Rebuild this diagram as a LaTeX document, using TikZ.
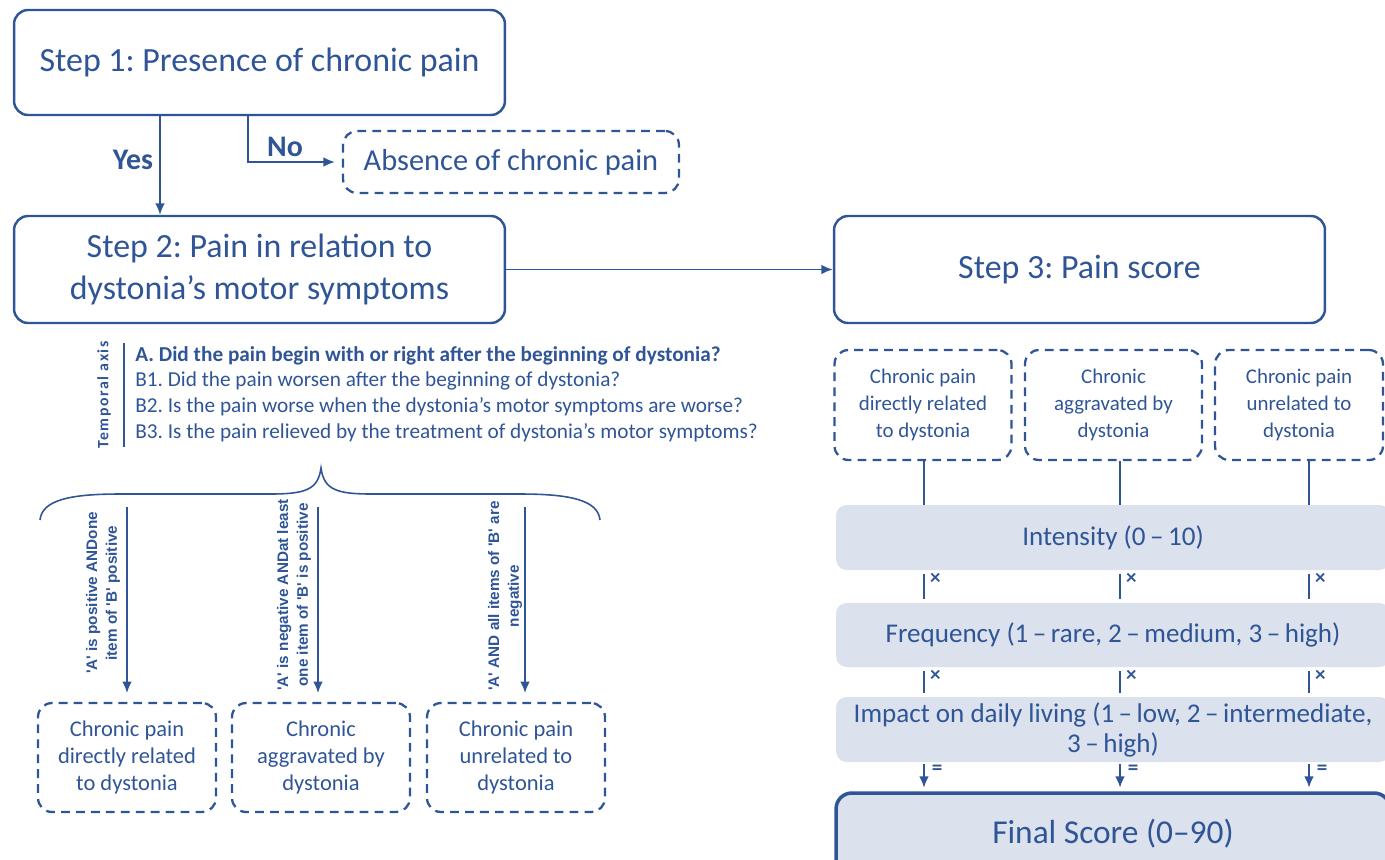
\documentclass[tikz,border=0pt]{standalone}
\usepackage{fontspec}
\setmainfont{Carlito}
\newfontfamily\labelfont{Liberation Sans}
\newfontfamily\axisfont[LetterSpace=10]{Carlito}
\usetikzlibrary{arrows.meta,calc}
\definecolor{ink}{HTML}{2F5597}
\definecolor{band}{HTML}{DCE2ED}
\frenchspacing

\tikzset{
  stepbox/.style={draw=ink, line width=1.4pt, rounded corners=8pt, align=center,
    text=ink, inner sep=0pt, font=\fontsize{19.3}{23.5}\selectfont},
  dashbox/.style={draw=ink, line width=1.3pt, dash pattern=on 5pt off 3.5pt,
    rounded corners=8pt, align=center, text=ink, inner sep=0pt},
  bandbox/.style={fill=band, rounded corners=6pt, align=center, text=ink,
    inner sep=0pt, minimum width=11.08cm, font=\fontsize{15.4}{17}\selectfont},
  link/.style={draw=ink, line width=1pt},
  arr/.style={link, -{Latex[length=6.5pt,width=5.5pt]}},
  rulelabel/.style={rotate=90, align=center, text=ink, inner sep=0pt,
    font=\labelfont\bfseries\fontsize{8.7}{11.3}\selectfont},
  opmark/.style={anchor=north west, inner sep=0pt, xshift=3pt, yshift=-1pt,
    text=ink, font=\bfseries\fontsize{12}{12}\selectfont},
}

\begin{document}
\begin{tikzpicture}[x=0.02cm, y=-0.02cm]
\useasboundingbox (0,0) rectangle (1385,859);
\clip (0,0) rectangle (1385,859);

% --- left column: steps 1 and 2
\node[stepbox, minimum width=9.82cm, minimum height=2.1cm] (s1) at (259.5,62.5)
  {Step 1: Presence of chronic pain};
\node[dashbox, minimum width=6.72cm, minimum height=1.24cm,
  font=\fontsize{17.3}{20}\selectfont] (absent) at (511,162) {Absence of chronic pain};
\node[stepbox, minimum width=9.82cm, minimum height=2.14cm] (s2) at (259.5,269.5)
  {Step 2: Pain in relation to\\dystonia’s motor symptoms};
\node[stepbox, minimum width=9.82cm, minimum height=2.14cm] (s3) at (1079.5,269.5)
  {Step 3: Pain score};

\coordinate (yesx) at (160,0);
\coordinate (nox) at (248,0);
\draw[arr] (s1.south -| yesx) -- (s2.north -| yesx);
\draw[arr, shorten >=4pt] (s1.south -| nox) |- (absent.west);
\node[text=ink, font=\bfseries\fontsize{17}{20}\selectfont] (yes) at (133,160) {Yes};
\node[text=ink, font=\bfseries\fontsize{17}{20}\selectfont] (no) at (285,147) {No};
\draw[arr] (s2.east) -- (s3.west);

% --- questions on the temporal axis
\node[rotate=90, text=ink, inner sep=0pt,
  font=\axisfont\bfseries\fontsize{9}{10}\selectfont] (axis) at (104,395) {Temporal axis};
\draw[ink, line width=1.2pt] (124,343) -- (124,447);
\node[anchor=west, align=left, text=ink, inner sep=0pt,
  font=\fontsize{12.1}{14.7}\selectfont] (quest) at (135,394)
  {\textbf{A. Did the pain begin with or right after the beginning of dystonia?}\\
   B1. Did the pain worsen after the beginning of dystonia?\\
   B2. Is the pain worse when the dystonia’s motor symptoms are worse?\\
   B3. Is the pain relieved by the treatment of dystonia’s motor symptoms?};

% --- brace gathering the answers
\draw[ink, line width=0.9pt] (40,520) .. controls (42,500) and (70,494) .. (120,494)
  -- (270,494) .. controls (305,494) and (318,490) .. (321,468)
  .. controls (324,490) and (337,494) .. (372,494)
  -- (520,494) .. controls (570,494) and (598,500) .. (600,520);

% --- classification outcomes
\node[dashbox, minimum width=3.56cm, minimum height=2.18cm,
  font=\fontsize{12.8}{15.3}\selectfont] (o1) at (127,757.5)
  {Chronic pain\\directly related\\to dystonia};
\node[dashbox, minimum width=3.56cm, minimum height=2.18cm,
  font=\fontsize{12.8}{15.3}\selectfont] (o2) at (321,757.5)
  {Chronic\\aggravated by\\dystonia};
\node[dashbox, minimum width=3.56cm, minimum height=2.18cm,
  font=\fontsize{12.8}{15.3}\selectfont] (o3) at (516,757.5)
  {Chronic pain\\unrelated to\\dystonia};

\coordinate (b1) at (127,507);
\coordinate (b2) at (318,507);
\coordinate (b3) at (525,507);
\draw[arr, shorten >=5pt] (b1) -- (b1 |- o1.north);
\draw[arr, shorten >=5pt] (b2) -- (b2 |- o2.north);
\draw[arr, shorten >=5pt] (b3) -- (b3 |- o3.north);

\node[rulelabel] (r1) at (103,593) {'A' is positive ANDone\\item of 'B' positive};
\node[rulelabel] (r2) at (294,595) {'A' is negative ANDat least\\one item of 'B' is positive};
\node[rulelabel] (r3) at (505,596) {'A' AND all items of 'B' are\\negative};

% --- step 3: score computation
\node[dashbox, minimum width=3.54cm, minimum height=2.2cm,
  font=\fontsize{11.9}{15.3}\selectfont] (p1) at (923,405)
  {Chronic pain\\directly related\\to dystonia};
\node[dashbox, minimum width=3.54cm, minimum height=2.2cm,
  font=\fontsize{11.9}{15.3}\selectfont] (p2) at (1113.5,405)
  {Chronic\\aggravated by\\dystonia};
\node[dashbox, minimum width=3.36cm, minimum height=2.2cm,
  font=\fontsize{11.9}{15.3}\selectfont] (p3) at (1299,405)
  {Chronic pain\\unrelated to\\dystonia};

\node[bandbox, minimum height=1.3cm] (int) at (1113,537.5) {Intensity (0\,–\,10)};
\node[bandbox, minimum height=1.28cm] (freq) at (1113,635)
  {Frequency (1\,–\,rare, 2\,–\,medium, 3\,–\,high)};
\node[bandbox, minimum height=1.3cm] (imp) at (1113,729.5)
  {Impact on daily living (1\,–\,low, 2\,–\,intermediate,\\3\,–\,high)};
\node[bandbox, draw=ink, line width=2pt, rounded corners=9pt, minimum height=1.74cm,
  font=\fontsize{19}{23}\selectfont] (final) at (1113,836.5)
  {\raisebox{6pt}{Final Score (0–90)}};

\coordinate (c1) at (924,0);
\coordinate (c2) at (1120,0);
\coordinate (c3) at (1309,0);

\foreach \c/\p in {c1/p1, c2/p2, c3/p3} {
  \draw[link] (\c |- \p.south) -- (\c |- int.north);
  \draw[link, shorten <=2pt, shorten >=2pt] (\c |- int.south) -- (\c |- freq.north)
    node[opmark, at start] {×};
  \draw[link, shorten <=2pt, shorten >=2pt] (\c |- freq.south) -- (\c |- imp.north)
    node[opmark, at start] {×};
  \draw[arr, shorten <=1pt, shorten >=2pt] (\c |- imp.south) -- (\c |- final.north)
    node[opmark, at start, xshift=1pt] {=};
}
\end{tikzpicture}
\end{document}
